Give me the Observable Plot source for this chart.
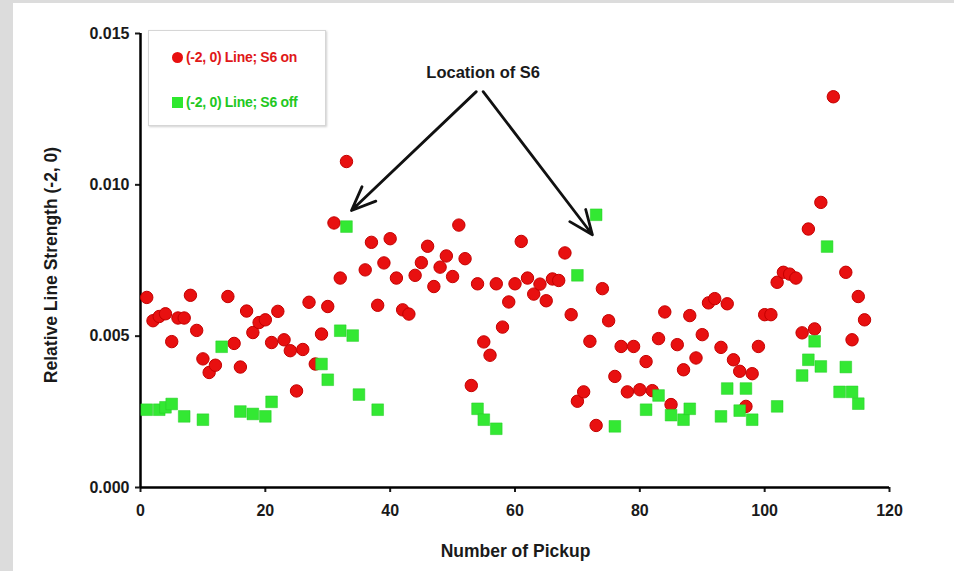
<!DOCTYPE html>
<html>
<head>
<meta charset="utf-8">
<script src="https://cdn.jsdelivr.net/npm/d3@7"></script>
<script src="https://cdn.jsdelivr.net/npm/@observablehq/plot@0.6"></script>
<style>
  html, body { margin: 0; padding: 0; }
  body { width: 954px; height: 571px; background: #dcdcdc; position: relative; overflow: hidden; font-family: "Liberation Sans", Arial, sans-serif; }
  #panel { position: absolute; left: 13px; top: 3px; width: 941px; height: 568px; background: #fff; }
  #chart { position: absolute; left: 0; top: 0; }
  #chart svg text { font-weight: bold; }
  .title { position: absolute; font-weight: bold; font-size: 17.5px; color: #1a1a1a; white-space: nowrap; }
  #xtitle { left: 0; width: 100%; text-align: center; top: 538px; padding-left: 64px; box-sizing: border-box; }
  #ytitle { left: 38px; top: 262px; transform: translate(-50%, -50%) rotate(-90deg); }
  #legend { position: absolute; left: 135px; top: 27px; width: 176px; height: 94px; border: 1px solid #d6d6d6; box-shadow: 1px 1px 2px #d0d0d0; background: #fff; font-size: 14px; font-weight: bold; }
  .row { position: absolute; left: 23px; white-space: nowrap; display: flex; align-items: center; letter-spacing: -0.3px; }
  .mk { display: inline-block; width: 11px; height: 11px; margin-right: 3px; }
</style>
</head>
<body>
<div id="panel">
  <div id="chart"></div>
  <div class="title" id="xtitle">Number of Pickup</div>
  <div class="title" id="ytitle">Relative Line Strength (-2, 0)</div>
  <div id="legend">
    <div class="row" style="top:18px;color:#e01818"><span class="mk" style="background:#e81010;border-radius:50%"></span>(-2, 0) Line; S6 on</div>
    <div class="row" style="top:63px;color:#22c822"><span class="mk" style="background:#2ee82e"></span>(-2, 0) Line; S6 off</div>
  </div>
</div>
<script>
// S6 on (red circles)
const onPickup = [1,2,3,4,5,6,7,8,9,10,11,12,14,15,16,17,18,19,20,21,22,23,24,25,26,27,28,29,30,31,32,33,36,37,38,39,40,41,42,43,44,45,46,47,48,49,50,51,52,53,54,55,56,57,58,59,60,61,62,63,64,65,66,67,68,69,70,71,72,73,74,75,76,77,78,79,80,81,82,83,84,85,86,87,88,89,90,91,92,93,94,95,96,97,98,99,100,101,102,103,104,105,106,107,108,109,111,113,114,115,116];
const onValue = [0.00628,0.00551,0.00565,0.00574,0.00482,0.00560,0.00560,0.00635,0.00519,0.00425,0.00380,0.00404,0.00631,0.00476,0.00398,0.00583,0.00512,0.00545,0.00554,0.00479,0.00582,0.00488,0.00452,0.00319,0.00456,0.00612,0.00408,0.00507,0.00598,0.00874,0.00692,0.01077,0.00719,0.00810,0.00602,0.00742,0.00822,0.00692,0.00587,0.00573,0.00701,0.00743,0.00797,0.00664,0.00728,0.00765,0.00697,0.00867,0.00756,0.00337,0.00673,0.00481,0.00437,0.00673,0.00530,0.00613,0.00673,0.00813,0.00692,0.00639,0.00672,0.00617,0.00689,0.00684,0.00775,0.00571,0.00285,0.00316,0.00483,0.00205,0.00657,0.00551,0.00367,0.00466,0.00316,0.00466,0.00323,0.00416,0.00320,0.00492,0.00580,0.00274,0.00472,0.00389,0.00568,0.00428,0.00505,0.00610,0.00624,0.00463,0.00607,0.00422,0.00384,0.00268,0.00376,0.00466,0.00571,0.00571,0.00678,0.00711,0.00705,0.00692,0.00511,0.00854,0.00524,0.00942,0.01291,0.00711,0.00488,0.00631,0.00554];

// S6 off (green squares)
const offPickup = [1,3,4,5,7,10,13,16,18,20,21,29,30,32,33,34,35,38,54,55,57,70,73,76,81,83,85,87,88,93,94,96,97,98,102,106,107,108,109,110,112,113,114,115];
const offValue = [0.00257,0.00257,0.00265,0.00276,0.00235,0.00224,0.00465,0.00251,0.00243,0.00235,0.00283,0.00408,0.00356,0.00518,0.00862,0.00502,0.00307,0.00257,0.00260,0.00224,0.00194,0.00701,0.00901,0.00202,0.00257,0.00304,0.00239,0.00224,0.00260,0.00235,0.00327,0.00254,0.00327,0.00224,0.00268,0.00370,0.00422,0.00483,0.00400,0.00796,0.00316,0.00398,0.00316,0.00277];

const xTicks = [0,20,40,60,80,100,120];
const yTicks = [0,0.005,0.010,0.015];

// annotation (data units)
const annotationLabel = [{x: 54.9, y: 0.01372, text: "Location of S6"}];
const annotationArrows = [
  {x1: 53.8, y1: 0.01308, x2: 33.8, y2: 0.00915},
  {x1: 54.9, y1: 0.01308, x2: 72.4, y2: 0.00835}
];

const onData = onPickup.map((x, i) => ({x, y: onValue[i]}));
const offData = offPickup.map((x, i) => ({x, y: offValue[i]}));

const chart = Plot.plot({
  width: 941,
  height: 568,
  marginLeft: 127,
  marginTop: 30,
  marginRight: 65,
  marginBottom: 84,
  style: {fontFamily: "'Liberation Sans', Arial, sans-serif", fontSize: "16px", color: "#1a1a1a", background: "transparent"},
  x: {domain: [0, 120]},
  y: {domain: [0, 0.015]},
  marks: [
    Plot.axisX({ticks: xTicks, tickSize: 5, tickPadding: 12, strokeWidth: 2, label: null, fontSize: 16}),
    Plot.axisY({ticks: yTicks, tickSize: 5, tickPadding: 6, strokeWidth: 2, label: null, fontSize: 16, tickFormat: d3.format(".3f")}),
    Plot.ruleY([0], {stroke: "#000", strokeWidth: 2.5}),
    Plot.ruleX([0], {stroke: "#000", strokeWidth: 2.5}),
    Plot.dot(onData, {x: "x", y: "y", r: 6.2, fill: "#e81010", stroke: "#c40000", strokeWidth: 1}),
    Plot.dot(offData, {x: "x", y: "y", symbol: "square", r: 6.6, fill: "#33e833", stroke: "#22cc22", strokeWidth: 0.5}),
    Plot.arrow(annotationArrows, {x1: "x1", y1: "y1", x2: "x2", y2: "y2", stroke: "#111", strokeWidth: 2.8, headLength: 14, headAngle: 45, bend: 0}),
    Plot.text(annotationLabel, {x: "x", y: "y", text: "text", fontSize: 16.5, fontWeight: "bold", fill: "#1a1a1a"})
  ]
});
document.getElementById("chart").appendChild(chart);
</script>
</body>
</html>
